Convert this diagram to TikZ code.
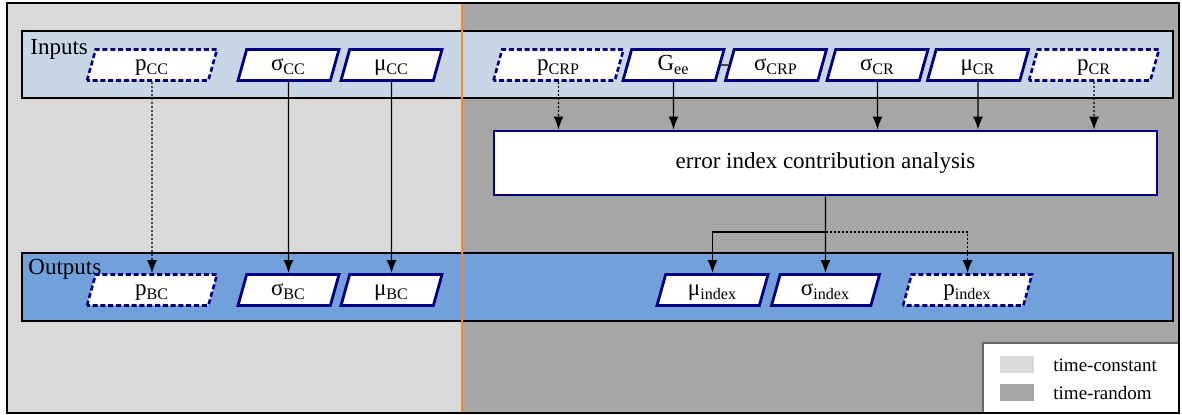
\documentclass[tikz,border=0pt]{standalone}
\usepackage{fontspec}
\setmainfont{Liberation Serif}
\usetikzlibrary{arrows.meta,shapes.geometric}
\definecolor{constgray}{HTML}{D9D9D9}
\definecolor{randgray}{HTML}{A6A6A6}
\definecolor{inblue}{RGB}{200,214,230}
\definecolor{outblue}{RGB}{113,160,219}
\definecolor{navyline}{RGB}{0,0,128}
\definecolor{splitorange}{RGB}{244,137,44}
\newcommand{\varsub}[2]{#1\textsubscript{#2}}
\tikzset{
    para/.style={trapezium, trapezium left angle=64, trapezium right angle=116,
        trapezium stretches body, draw=navyline, line width=1.4pt, fill=white,
        minimum height=15.5pt, minimum width=50.5pt, inner sep=1pt,
        text height=1.4ex, text depth=0.1ex,
        font=\fontsize{11.5}{13}\selectfont},
    paradash/.style={para, line width=1.3pt, dash pattern=on 2.5pt off 1.4pt, minimum width=65pt},
    band/.style={draw, line width=0.6pt, minimum width=575.5pt, inner sep=0pt},
    arr/.style={line width=0.7pt, -{Latex[length=6.5pt,width=5pt]}},
    dots/.style={dash pattern=on 1.1pt off 0.9pt},
}

\begin{document}
\begin{tikzpicture}[x=0.5pt, y=-0.5pt]
    \useasboundingbox (0,0) rectangle (1182,415);
    % time-constant / time-random areas
    \fill[constgray] (7,3) rectangle (462,413);
    \fill[randgray] (462,3) rectangle (1179,413);
    % bands
    \node[band, fill=inblue, minimum height=33.5pt] (inputs) at (597.5,64.5) {};
    \node[band, fill=outblue, minimum height=34pt] (outputs) at (597.5,287) {};
    \draw[splitorange, line width=1.4pt] (462,3) -- (462,413);
    \node[anchor=north west, inner sep=0pt, font=\fontsize{11.5}{13}\selectfont] at (30,39) {Inputs};
    \node[anchor=north west, inner sep=0pt, font=\fontsize{11.5}{13}\selectfont] at (28,259) {Outputs};
    % inputs
    \node[paradash] (pCC) at (152,65) {\varsub{p}{CC}};
    \node[para] (sCC) at (288.5,65) {\varsub{σ}{CC}};
    \node[para] (mCC) at (391.5,65) {\varsub{μ}{CC}};
    \node[paradash] (pCRP) at (558.5,65) {\varsub{p}{CRP}};
    \node[para] (Gee) at (673.5,65) {\varsub{G}{ee}};
    \node[para] (sCRP) at (776,65) {\varsub{σ}{CRP}};
    \node[para] (sCR) at (877.5,65) {\varsub{σ}{CR}};
    \node[para] (mCR) at (978,65) {\varsub{μ}{CR}};
    \node[paradash] (pCR) at (1094,65) {\varsub{p}{CR}};
    % analysis
    \node[draw=navyline, line width=1.4pt, fill=white, minimum width=331.5pt, minimum height=32pt,
        font=\fontsize{11.5}{13}\selectfont] (eica) at (825.5,163) {error index contribution analysis};
    % outputs
    \node[paradash] (pBC) at (152,290) {\varsub{p}{BC}};
    \node[para] (sBC) at (288.5,290) {\varsub{σ}{BC}};
    \node[para] (mBC) at (391.5,290) {\varsub{μ}{BC}};
    \node[para, minimum width=55.5pt] (midx) at (712.5,290) {\varsub{μ}{index}};
    \node[para, minimum width=54pt] (sidx) at (825.5,290) {\varsub{σ}{index}};
    \node[paradash, minimum width=64.5pt] (pidx) at (967.5,290) {\varsub{p}{index}};
    % connectors
    \draw[arr, dots] (pCC) -- (pBC);
    \draw[arr] (sCC) -- (sBC);
    \draw[arr] (mCC) -- (mBC);
    \draw[line width=0.7pt] (Gee) -- (sCRP);
    \draw[arr, dots] (pCRP) -- (pCRP |- eica.north);
    \draw[arr] (Gee) -- (Gee |- eica.north);
    \draw[arr] (sCR) -- (sCR |- eica.north);
    \draw[arr] (mCR) -- (mCR |- eica.north);
    \draw[arr, dots] (pCR) -- (pCR |- eica.north);
    \coordinate (split) at (825.5,232);
    \draw[arr] (eica) -- (sidx);
    \draw[arr] (split) -| (midx);
    \draw[arr, dots] (split) -| (pidx);
    % legend
    \node[draw=black!60, line width=0.6pt, fill=white, minimum width=98pt, minimum height=35pt, inner sep=0pt] (legend) at (1081,378) {};
    \node[fill=constgray, minimum width=17pt, minimum height=8.5pt, inner sep=0pt] (swconst) at (1017,364.5) {};
    \node[fill=randgray, minimum width=17pt, minimum height=8.5pt, inner sep=0pt] (swrand) at (1017,392.5) {};
    \node[anchor=west, inner sep=0pt, font=\fontsize{9.5}{11}\selectfont] at (1053,365) {time-constant};
    \node[anchor=west, inner sep=0pt, font=\fontsize{9.5}{11}\selectfont] at (1053,393) {time-random};
    % frame
    \draw[line width=1.2pt] (7,3) rectangle (1179,413);
\end{tikzpicture}
\end{document}
